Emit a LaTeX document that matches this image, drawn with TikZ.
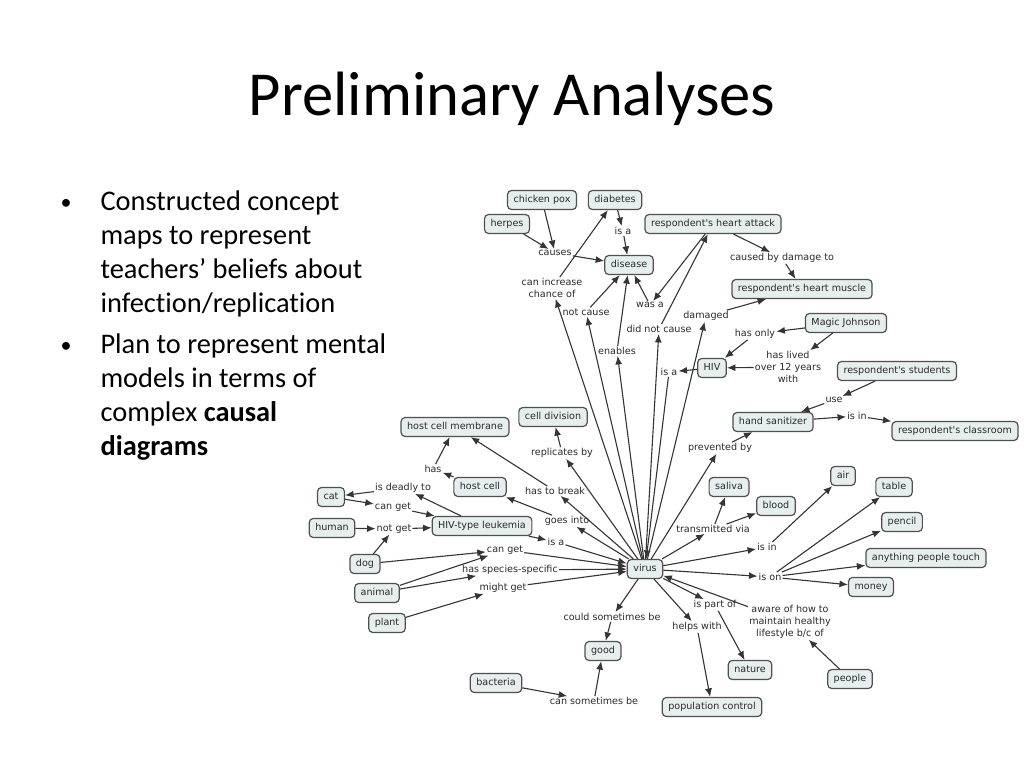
\documentclass[tikz,border=0pt]{standalone}
\usepackage{fontspec}
\setmainfont[Ligatures=NoCommon]{Carlito}
\newfontfamily\mapfont{DejaVu Sans}
\usetikzlibrary{arrows.meta}

\definecolor{boxfill}{HTML}{E6EEEE}
\definecolor{boxline}{HTML}{505050}
\definecolor{maptext}{HTML}{2A2A2A}
\definecolor{mapline}{HTML}{353535}

\tikzset{
  concept/.style={draw=boxline, fill=boxfill, line width=1.2pt, rounded corners=4pt,
    inner xsep=6pt, inner ysep=3pt, minimum height=19pt, text height=7.2pt, text depth=2.2pt,
    text=maptext, font=\mapfont\fontsize{9.6pt}{11.5pt}\selectfont},
  link/.style={inner sep=1pt, text=maptext, align=center,
    font=\mapfont\fontsize{9.6pt}{12pt}\selectfont},
  arr/.style={draw=mapline, line width=1.1pt, -{Latex[length=8.5pt,width=7pt]}},
  bullettext/.style={anchor=base west, font=\fontsize{28.4pt}{34pt}\selectfont}
}

\begin{document}
\begin{tikzpicture}[x=1pt,y=-1pt]
    \fill[white] (0,0) rectangle (1024,768);
    \useasboundingbox (0,0) rectangle (1024,768);

    % Title
    \node[anchor=base, font=\fontsize{62.6pt}{70pt}\selectfont] (title) at (512,115) {Preliminary Analyses};

    % Bullets
    \node[anchor=base, font=\fontsize{22pt}{24pt}\selectfont] (bullet1) at (66,209) {•};
    \node[anchor=base, font=\fontsize{22pt}{24pt}\selectfont] (bullet2) at (66,352) {•};
    \foreach \y/\txt in {210/Constructed concept, 244/maps to represent, 278/teachers’ beliefs about,
        312/{infection/replication}, 353/Plan to represent mental, 387/models in terms of,
        421/{complex \textbf{causal}}, 455/{\textbf{diagrams}}}
        \node[bullettext] at (97,\y) {\txt};

    % Concepts
    \node[concept] (pox) at (542,200) {chicken pox};
    \node[concept] (diab) at (615,200) {diabetes};
    \node[concept] (herp) at (507,224) {herpes};
    \node[concept] (attack) at (713,224) {respondent's heart attack};
    \node[concept] (disease) at (629,265) {disease};
    \node[concept] (muscle) at (802,289) {respondent's heart muscle};
    \node[concept] (magic) at (846,323) {Magic Johnson};
    \node[concept] (hiv) at (712,368) {HIV};
    \node[concept] (students) at (897,371) {respondent's students};
    \node[concept] (sanit) at (773,422) {hand sanitizer};
    \node[concept] (classrm) at (955,431) {respondent's classroom};
    \node[concept] (celldiv) at (553,417) {cell division};
    \node[concept] (membr) at (455,427) {host cell membrane};
    \node[concept] (hostc) at (480,487) {host cell};
    \node[concept] (cat) at (331,497) {cat};
    \node[concept] (human) at (332,528) {human};
    \node[concept] (leuk) at (482,526) {HIV-type leukemia};
    \node[concept] (dog) at (365,564) {dog};
    \node[concept] (animal) at (377,593) {animal};
    \node[concept] (plant) at (387,623) {plant};
    \node[concept] (virus) at (645,569) {virus};
    \node[concept] (saliva) at (729,487) {saliva};
    \node[concept] (blood) at (776,506) {blood};
    \node[concept] (air) at (843,476) {air};
    \node[concept] (table) at (894,487) {table};
    \node[concept] (pencil) at (902,522) {pencil};
    \node[concept] (anything) at (926,558) {anything people touch};
    \node[concept] (money) at (871,587) {money};
    \node[concept] (good) at (603,651) {good};
    \node[concept] (bacteria) at (496,683) {bacteria};
    \node[concept] (nature) at (750,670) {nature};
    \node[concept] (people) at (850,679) {people};
    \node[concept] (popctl) at (712,707) {population control};

    % Linking phrases
    \node[link] (lcauses) at (555,253) {causes};
    \node[link] (lisa1) at (623,231) {is a};
    \node[link] (lincr) at (552,288) {can increase\\chance of};
    \node[link] (lnotc) at (586,312) {not cause};
    \node[link] (lwas) at (650,305) {was a};
    \node[link] (ldidnot) at (659,329) {did not cause};
    \node[link] (ldam) at (706,316) {damaged};
    \node[link] (lenab) at (617,351) {enables};
    \node[link] (lisa2) at (669,372) {is a};
    \node[link] (lcaused) at (782,258) {caused by damage to};
    \node[link] (lonly) at (755,334) {has only};
    \node[link] (llived) at (788,367) {has lived\\over 12 years\\with};
    \node[link] (luse) at (834,400) {use};
    \node[link] (lisin1) at (857,416) {is in};
    \node[link] (lprev) at (720,448) {prevented by};
    \node[link] (lrepl) at (562,453) {replicates by};
    \node[link] (lhas) at (433,469) {has};
    \node[link] (lbreak) at (555,491) {has to break};
    \node[link] (ldeadly) at (403,488) {is deadly to};
    \node[link] (lcanget1) at (393,507) {can get};
    \node[link] (lgoes) at (567,521) {goes into};
    \node[link] (lnotget) at (394,529) {not get};
    \node[link] (lisa3) at (556,542) {is a};
    \node[link] (lcanget2) at (505,550) {can get};
    \node[link] (lspec) at (510,570) {has species-specific};
    \node[link] (lmight) at (503,588) {might get};
    \node[link] (lcould) at (612,617) {could sometimes be};
    \node[link] (lhelps) at (697,627) {helps with};
    \node[link] (lpart) at (715,605) {is part of};
    \node[link] (laware) at (790,622) {aware of how to\\maintain healthy\\lifestyle b/c of};
    \node[link] (lcansome) at (594,701) {can sometimes be};
    \node[link] (ltrans) at (713,529) {transmitted via};
    \node[link] (lisin2) at (767,547) {is in};
    \node[link] (lison) at (770,577) {is on};

    % Connectors
    \foreach \a/\b in {pox/lcauses, herp/lcauses, lcauses/disease, diab/lisa1, lisa1/disease,
        lincr/diab, lnotc/disease, lenab/disease, lwas/disease, attack/lwas, ldidnot/attack,
        attack/lcaused, lcaused/muscle, ldam/muscle, magic/lonly, lonly/hiv, magic/llived,
        llived/hiv, hiv/lisa2, lisa2/virus, students/luse, luse/sanit, sanit/lisin1,
        lisin1/classrm, lprev/sanit, virus/lprev, virus/lincr, virus/lnotc, virus/lenab,
        virus/ldidnot, virus/ldam, virus/lrepl, lrepl/celldiv, hostc/lhas, lhas/membr,
        virus/lbreak, lbreak/membr, virus/lgoes, lgoes/hostc, leuk/lisa3, lisa3/virus,
        leuk/ldeadly, ldeadly/cat, cat/lcanget1, lcanget1/leuk, human/lnotget, dog/lnotget,
        lnotget/leuk, dog/lcanget2, animal/lcanget2, lcanget2/virus, animal/lspec, lspec/virus,
        plant/lmight, lmight/virus, virus/lcould, lcould/good, bacteria/lcansome, lcansome/good,
        virus/lhelps, lhelps/popctl, virus/lpart, lpart/nature, laware/virus, people/laware,
        virus/ltrans, ltrans/saliva, ltrans/blood, virus/lisin2, lisin2/air, virus/lison,
        lison/table, lison/pencil, lison/anything, lison/money}
        \draw[arr] (\a) -- (\b);
\end{tikzpicture}
\end{document}
